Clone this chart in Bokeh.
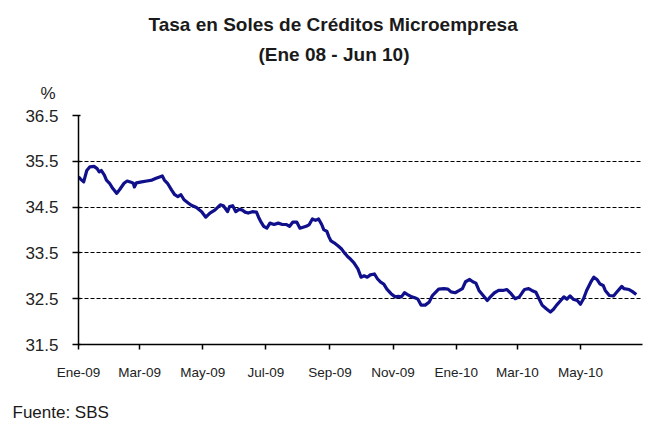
import pandas as pd
from bokeh.plotting import figure
from bokeh.models import FixedTicker, Range1d, Title
from bokeh.embed import file_html
from bokeh.resources import INLINE

# ---- data ----
start_date = "2009-01-01"
end_date = "2010-06-30"
# days since 2009-01-01
days_since_start = [
    0, 2, 5, 8, 11, 15, 18, 20, 22, 25, 27, 30, 33, 37, 40, 44, 47, 50, 53, 54, 56, 61, 66, 71, 75, 81, 83, 86, 90, 93, 96, 99, 102, 106,
    109, 114, 119, 123, 127, 132, 137, 140, 144, 146, 149, 152, 155, 158, 161, 164, 168, 172, 174, 176, 179, 182, 185, 189, 193, 197, 201, 204, 207, 211,
    214, 220, 223, 226, 229, 232, 235, 237, 240, 242, 244, 247, 251, 254, 257, 260, 263, 266, 270, 273, 276, 279, 282, 286, 289, 292, 295, 298, 302, 306, 309, 312, 315, 318, 322,
    325, 328, 331, 335, 339, 342, 345, 348, 353, 357, 360, 364, 368, 371, 374, 378, 381, 384, 387, 391, 395, 398, 402, 406, 410, 414, 418, 422, 426, 429,
    431, 435, 438, 442, 445, 448, 452, 456, 459, 462, 466, 469, 472, 475, 478, 482, 485, 488, 491, 495, 498, 501, 504, 507, 509, 513, 517, 520, 525, 527, 532, 535, 539,
]
tasa = [
    35.16, 35.11, 35.05, 35.30, 35.38, 35.39, 35.34, 35.27, 35.30, 35.20, 35.09, 35.02, 34.91, 34.80, 34.89, 35.02, 35.07, 35.05, 35.02, 34.94, 35.03, 35.05, 35.07, 35.09, 35.13, 35.18, 35.09, 35.02, 34.87, 34.77, 34.73, 34.77, 34.66, 34.59,
    34.54, 34.49, 34.40, 34.28, 34.37, 34.44, 34.55, 34.53, 34.40, 34.51, 34.53, 34.40, 34.45, 34.44, 34.39, 34.37, 34.40, 34.39, 34.28, 34.19, 34.08, 34.04, 34.15, 34.12, 34.15, 34.12, 34.12, 34.08, 34.17, 34.17,
    34.04, 34.08, 34.12, 34.24, 34.21, 34.24, 34.12, 34.01, 33.97, 33.85, 33.76, 33.72, 33.65, 33.59, 33.50, 33.42, 33.36, 33.29, 33.15, 32.97, 33.00, 32.97, 33.02, 33.04, 32.93, 32.86, 32.82, 32.71, 32.61, 32.54, 32.55, 32.54, 32.63, 32.59, 32.54,
    32.52, 32.49, 32.36, 32.36, 32.43, 32.57, 32.64, 32.71, 32.72, 32.71, 32.65, 32.63, 32.68, 32.72, 32.87, 32.92, 32.87, 32.84, 32.68, 32.57, 32.46, 32.54, 32.63, 32.68, 32.68, 32.70, 32.61, 32.50, 32.54, 32.64,
    32.70, 32.72, 32.68, 32.64, 32.50, 32.36, 32.28, 32.21, 32.27, 32.36, 32.46, 32.54, 32.49, 32.56, 32.49, 32.46, 32.38, 32.50, 32.68, 32.86, 32.97, 32.92, 32.82, 32.79, 32.68, 32.57, 32.56, 32.64, 32.77, 32.72, 32.70, 32.66, 32.59,
]
tick_dates = ["2009-01-01", "2009-03-01", "2009-05-01", "2009-07-01", "2009-09-01",
              "2009-11-01", "2010-01-01", "2010-03-01", "2010-05-01"]
tick_labels = ["Ene-09", "Mar-09", "May-09", "Jul-09", "Sep-09",
               "Nov-09", "Ene-10", "Mar-10", "May-10"]
y_ticks = [31.5, 32.5, 33.5, 34.5, 35.5, 36.5]

title_text = "Tasa en Soles de Créditos Microempresa"
subtitle_text = "(Ene 08 - Jun 10)"
unit_text = "%"
source_text = "Fuente: SBS"

# ---- derived ----
t0 = pd.Timestamp(start_date)
x_end = (pd.Timestamp(end_date) - t0).days
tick_pos = [(pd.Timestamp(d) - t0).days for d in tick_dates]

SANS = "'Liberation Sans', Arial, sans-serif"
TXT = "#1a1a1a"

p = figure(width=650, height=423, output_backend="svg", toolbar_location=None,
           x_range=Range1d(0, x_end), y_range=Range1d(31.5, 36.5),
           min_border_left=78, min_border_right=8, min_border_top=115, min_border_bottom=77)
p.title.visible = False
p.outline_line_color = None
p.background_fill_color = "white"
p.border_fill_color = "white"

p.line(days_since_start, tasa, line_color="#10108c", line_width=3.2, line_join="round")

# axes
p.xaxis.ticker = FixedTicker(ticks=tick_pos)
p.xaxis.major_label_overrides = {int(t): lab for t, lab in zip(tick_pos, tick_labels)}
p.xaxis.major_tick_in = 0
p.xaxis.major_tick_out = 5
p.xaxis.minor_tick_line_color = None
p.xaxis.major_label_standoff = 15
p.xaxis.major_label_text_font = SANS
p.xaxis.major_label_text_font_size = "13.5px"
p.xaxis.major_label_text_color = "#222222"
# blank axis label only reserves room between tick labels and the source note
p.xaxis.axis_label = " "
p.xaxis.axis_label_standoff = 16
p.xaxis.axis_label_text_font_size = "1px"

p.yaxis.ticker = FixedTicker(ticks=y_ticks)
p.yaxis.major_tick_in = 2
p.yaxis.major_tick_out = 6
p.yaxis.minor_tick_line_color = None
p.yaxis.major_label_standoff = 14
p.yaxis.major_label_text_font = SANS
p.yaxis.major_label_text_font_size = "17px"
p.yaxis.major_label_text_color = "#222222"

for ax in (p.xaxis[0], p.yaxis[0]):
    ax.axis_line_color = "black"
    ax.axis_line_width = 1.5
    ax.major_tick_line_color = "black"
    ax.major_tick_line_width = 1.5

p.xgrid.visible = False
p.ygrid.ticker = FixedTicker(ticks=y_ticks[1:])
p.ygrid.grid_line_color = "black"
p.ygrid.grid_line_alpha = 1.0
p.ygrid.grid_line_width = 1.2
p.ygrid.grid_line_dash = "4 2"

# titles above the frame (first added = closest to the frame)
p.add_layout(Title(text=unit_text, align="left", offset=-38, standoff=26,
                   text_font=SANS, text_font_size="17px", text_font_style="normal",
                   text_color="#222222"), "above")
p.add_layout(Title(text=subtitle_text, align="left", offset=180, standoff=7,
                   text_font=SANS, text_font_size="19px", text_font_style="bold",
                   text_color=TXT), "above")
p.add_layout(Title(text=title_text, align="left", offset=70, standoff=7,
                   text_font=SANS, text_font_size="19px", text_font_style="bold",
                   text_color=TXT), "above")

# source note below the x axis
p.add_layout(Title(text=source_text, align="left", offset=-66, standoff=0,
                   vertical_align="top", text_font=SANS, text_font_size="17px",
                   text_font_style="normal", text_color=TXT), "below")

open("out.html", "w").write(file_html(p, INLINE))
